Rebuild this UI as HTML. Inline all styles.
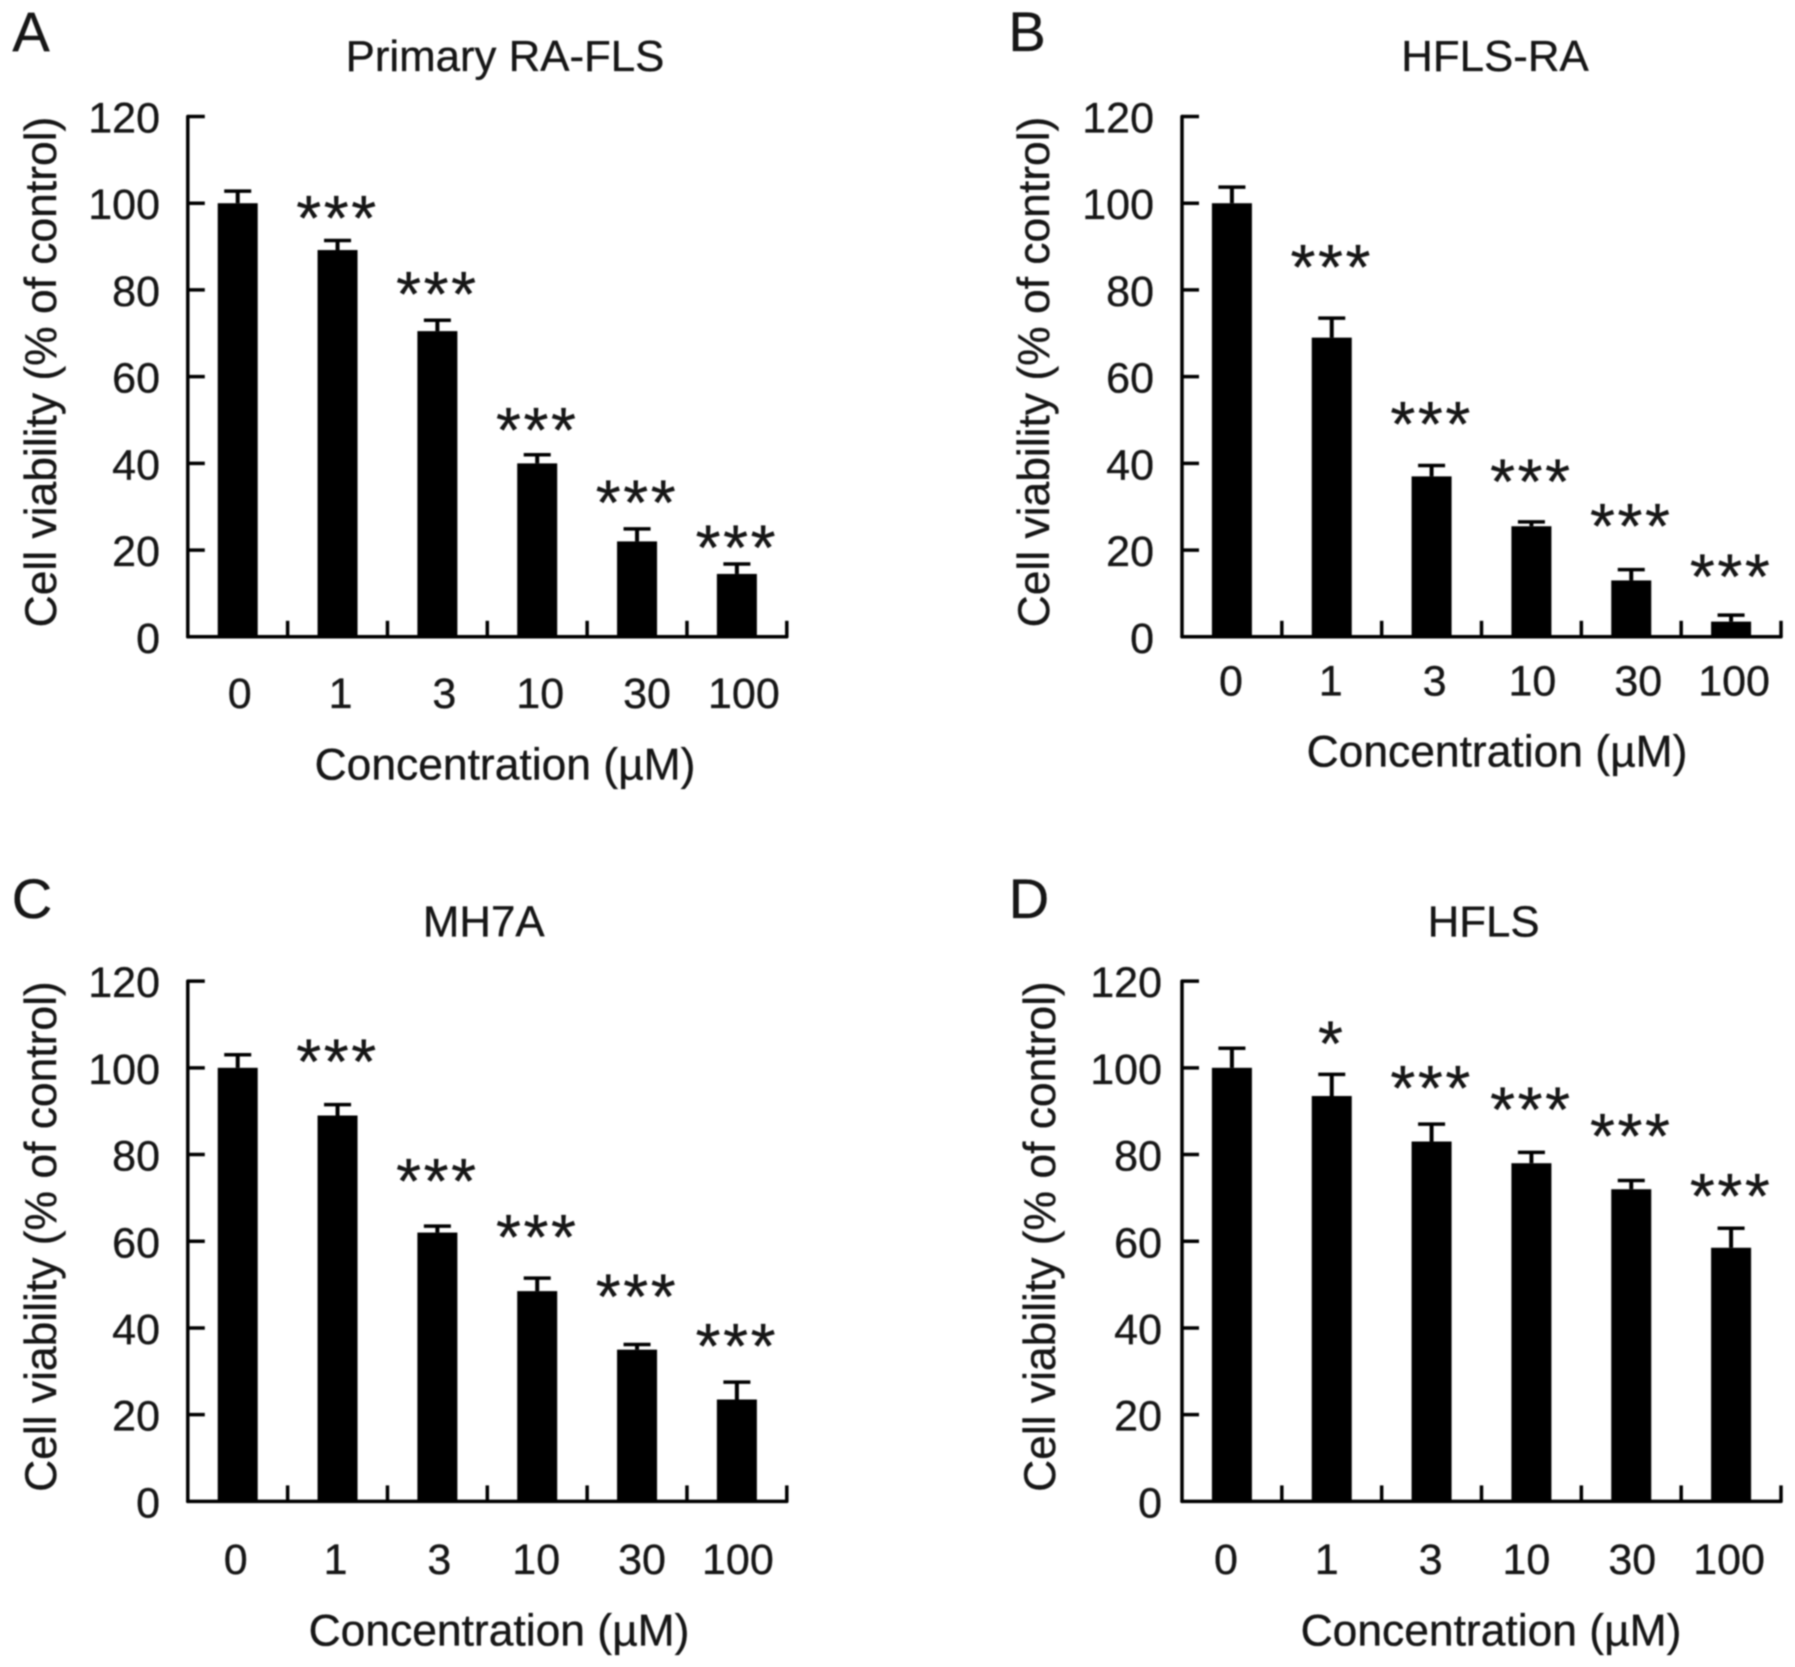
<!DOCTYPE html>
<html lang="en">
<head>
<meta charset="utf-8">
<title>Cell viability charts</title>
<style>
html,body{margin:0;padding:0;background:#fff;}
svg{display:block;filter:blur(0.7px);}
text{font-family:"Liberation Sans",Arial,sans-serif;fill:#161616;stroke:#161616;stroke-width:0.35px;}
</style>
</head>
<body>
<svg id="figure" xmlns="http://www.w3.org/2000/svg" width="1795" height="1667" viewBox="0 0 1795 1667"></svg>
<script>
const categories = ['0', '1', '3', '10', '30', '100'];
const yTickValues = [0, 20, 40, 60, 80, 100, 120];

const primaryValues = [100, 89.2, 70.5, 40, 22, 14.5];
const primaryErrors = [2.8, 2.2, 2.5, 2, 2.9, 2.3];
const primaryStars = ['', '***', '***', '***', '***', '***'];
const primaryStarLevels = [0, 98.6, 81, 49.6, 32.9, 22.6];

const hflsRaValues = [100, 69, 37, 25.5, 13, 3.5];
const hflsRaErrors = [3.7, 4.5, 2.5, 1, 2.5, 1.5];
const hflsRaStars = ['', '***', '***', '***', '***', '***'];
const hflsRaStarLevels = [0, 87.2, 51, 37.8, 27.5, 15.9];

const mh7aValues = [100, 89, 62, 48.5, 35, 23.5];
const mh7aErrors = [3, 2.5, 1.5, 3, 1.2, 4];
const mh7aStars = ['', '***', '***', '***', '***', '***'];
const mh7aStarLevels = [0, 103.4, 75.9, 62.9, 49.2, 37.8];

const hflsValues = [100, 93.5, 83, 78, 72, 58.5];
const hflsErrors = [4.5, 5, 4, 2.5, 2, 4.5];
const hflsStars = ['', '*', '***', '***', '***', '***'];
const hflsStarLevels = [0, 107.6, 97.3, 92.3, 86.2, 72.4];

const NS = 'http://www.w3.org/2000/svg';
const svg = document.getElementById('figure');

function make(parent, tag, attrs, content) {
  const el = document.createElementNS(NS, tag);
  for (const k in attrs) el.setAttribute(k, attrs[k]);
  if (content !== undefined) el.textContent = content;
  parent.appendChild(el);
  return el;
}

function drawPanel(p) {
  const g = make(svg, 'g', {});
  
  

  const plotW = 599, plotH = 520.3;
  const slot = plotW / categories.length;
  const xAt = i => p.x + slot * (i + 0.5);
  const yAt = v => p.y0 - (v / 120) * plotH;

  const letter = make(g, 'text', {x: p.letterX, y: p.letterY + 18, 'font-size': 56, 'text-anchor': 'middle'}, p.letter);
  
  

  const title = make(g, 'text', {x: p.titleX, y: p.titleY + 15, 'font-size': 43.8, 'text-anchor': 'middle'}, p.title);
  
  

  p.values.forEach((v, i) => {
    const top = yAt(v + p.errors[i]);
    const cx = xAt(i);
    const stem = make(g, 'line', {x1: cx, x2: cx, y1: yAt(v), y2: top, stroke: '#000', 'stroke-width': 4});
    
    
    const cap = make(g, 'line', {x1: cx - 13.5, x2: cx + 13.5, y1: top, y2: top, stroke: '#000', 'stroke-width': 3.5});
    
    
    const bar = make(g, 'rect', {x: cx - 20, y: yAt(v), width: 40, height: p.y0 - yAt(v), fill: '#000'});
    
    
    if (p.stars[i]) {
      const star = make(g, 'text', {x: cx, y: yAt(p.starLevels[i]) + 30.5, 'font-size': 64, 'letter-spacing': 2.6, 'text-anchor': 'middle'}, p.stars[i]);
      
      
    }
    const lab = make(g, 'text', {x: cx + p.catOffsets[i], y: p.catY + 15, 'font-size': 43, 'text-anchor': 'middle'}, categories[i]);
    
    
  });

  const yAxis = make(g, 'line', {x1: p.x, x2: p.x, y1: yAt(120), y2: p.y0, stroke: '#000', 'stroke-width': 3.5, 'stroke-linecap': 'round'});
  
  
  const xAxis = make(g, 'line', {x1: p.x, x2: p.x + plotW, y1: p.y0, y2: p.y0, stroke: '#000', 'stroke-width': 3.5, 'stroke-linecap': 'round'});
  
  

  yTickValues.forEach(t => {
    if (t > 0) {
      const tick = make(g, 'line', {x1: p.x, x2: p.x + 17, y1: yAt(t), y2: yAt(t), stroke: '#000', 'stroke-width': 3.5});
      
      
    }
    const lab = make(g, 'text', {x: p.yLabelX, y: yAt(t) + 16, 'font-size': 43, 'text-anchor': 'end'}, String(t));
    
    
  });

  categories.forEach((c, i) => {
    const tx = p.x + slot * (i + 1);
    const tick = make(g, 'line', {x1: tx, x2: tx, y1: p.y0, y2: p.y0 - 16, stroke: '#000', 'stroke-width': 3.5});
    
    
  });

  const yTitle = make(g, 'text', {x: 0, y: 0, 'font-size': 44.4, 'text-anchor': 'middle', transform: 'translate(' + p.yTitleX + ',' + (p.y0 - 264.8) + ') rotate(-90)'}, 'Cell viability (% of control)');
  
  

  const xTitle = make(g, 'text', {x: p.xTitleX, y: p.xTitleY + 15, 'font-size': 44.4, 'text-anchor': 'middle'}, 'Concentration (µM)');
  
  
}

drawPanel({letter: 'A', title: 'Primary RA-FLS', x: 187.8, y0: 636.8,
  values: primaryValues, errors: primaryErrors, stars: primaryStars, starLevels: primaryStarLevels,
  catOffsets: [2, 3, 7, 3, 10, 7], catY: 693.2, yLabelX: 160, yTitleX: 56,
  xTitleX: 505, xTitleY: 764.4, titleX: 505, titleY: 56, letterX: 31, letterY: 33});
drawPanel({letter: 'B', title: 'HFLS-RA', x: 1182, y0: 636.8,
  values: hflsRaValues, errors: hflsRaErrors, stars: hflsRaStars, starLevels: hflsRaStarLevels,
  catOffsets: [-1, -1, 3, 1, 7, 3], catY: 680.4, yLabelX: 1154, yTitleX: 1049,
  xTitleX: 1497, xTitleY: 751.4, titleX: 1495, titleY: 56, letterX: 1027, letterY: 33});
drawPanel({letter: 'C', title: 'MH7A', x: 187.8, y0: 1501.4,
  values: mh7aValues, errors: mh7aErrors, stars: mh7aStars, starLevels: mh7aStarLevels,
  catOffsets: [-2, -2, 2, -1, 5, 1], catY: 1559, yLabelX: 160, yTitleX: 56,
  xTitleX: 499, xTitleY: 1630.5, titleX: 483.7, titleY: 921.6, letterX: 32, letterY: 900});
drawPanel({letter: 'D', title: 'HFLS', x: 1182, y0: 1501.4,
  values: hflsValues, errors: hflsErrors, stars: hflsStars, starLevels: hflsStarLevels,
  catOffsets: [-6, -5, -1, -5, 1, -2], catY: 1559, yLabelX: 1162, yTitleX: 1055,
  xTitleX: 1491, xTitleY: 1630.5, titleX: 1483.6, titleY: 921.6, letterX: 1029, letterY: 900});
</script>
</body>
</html>
